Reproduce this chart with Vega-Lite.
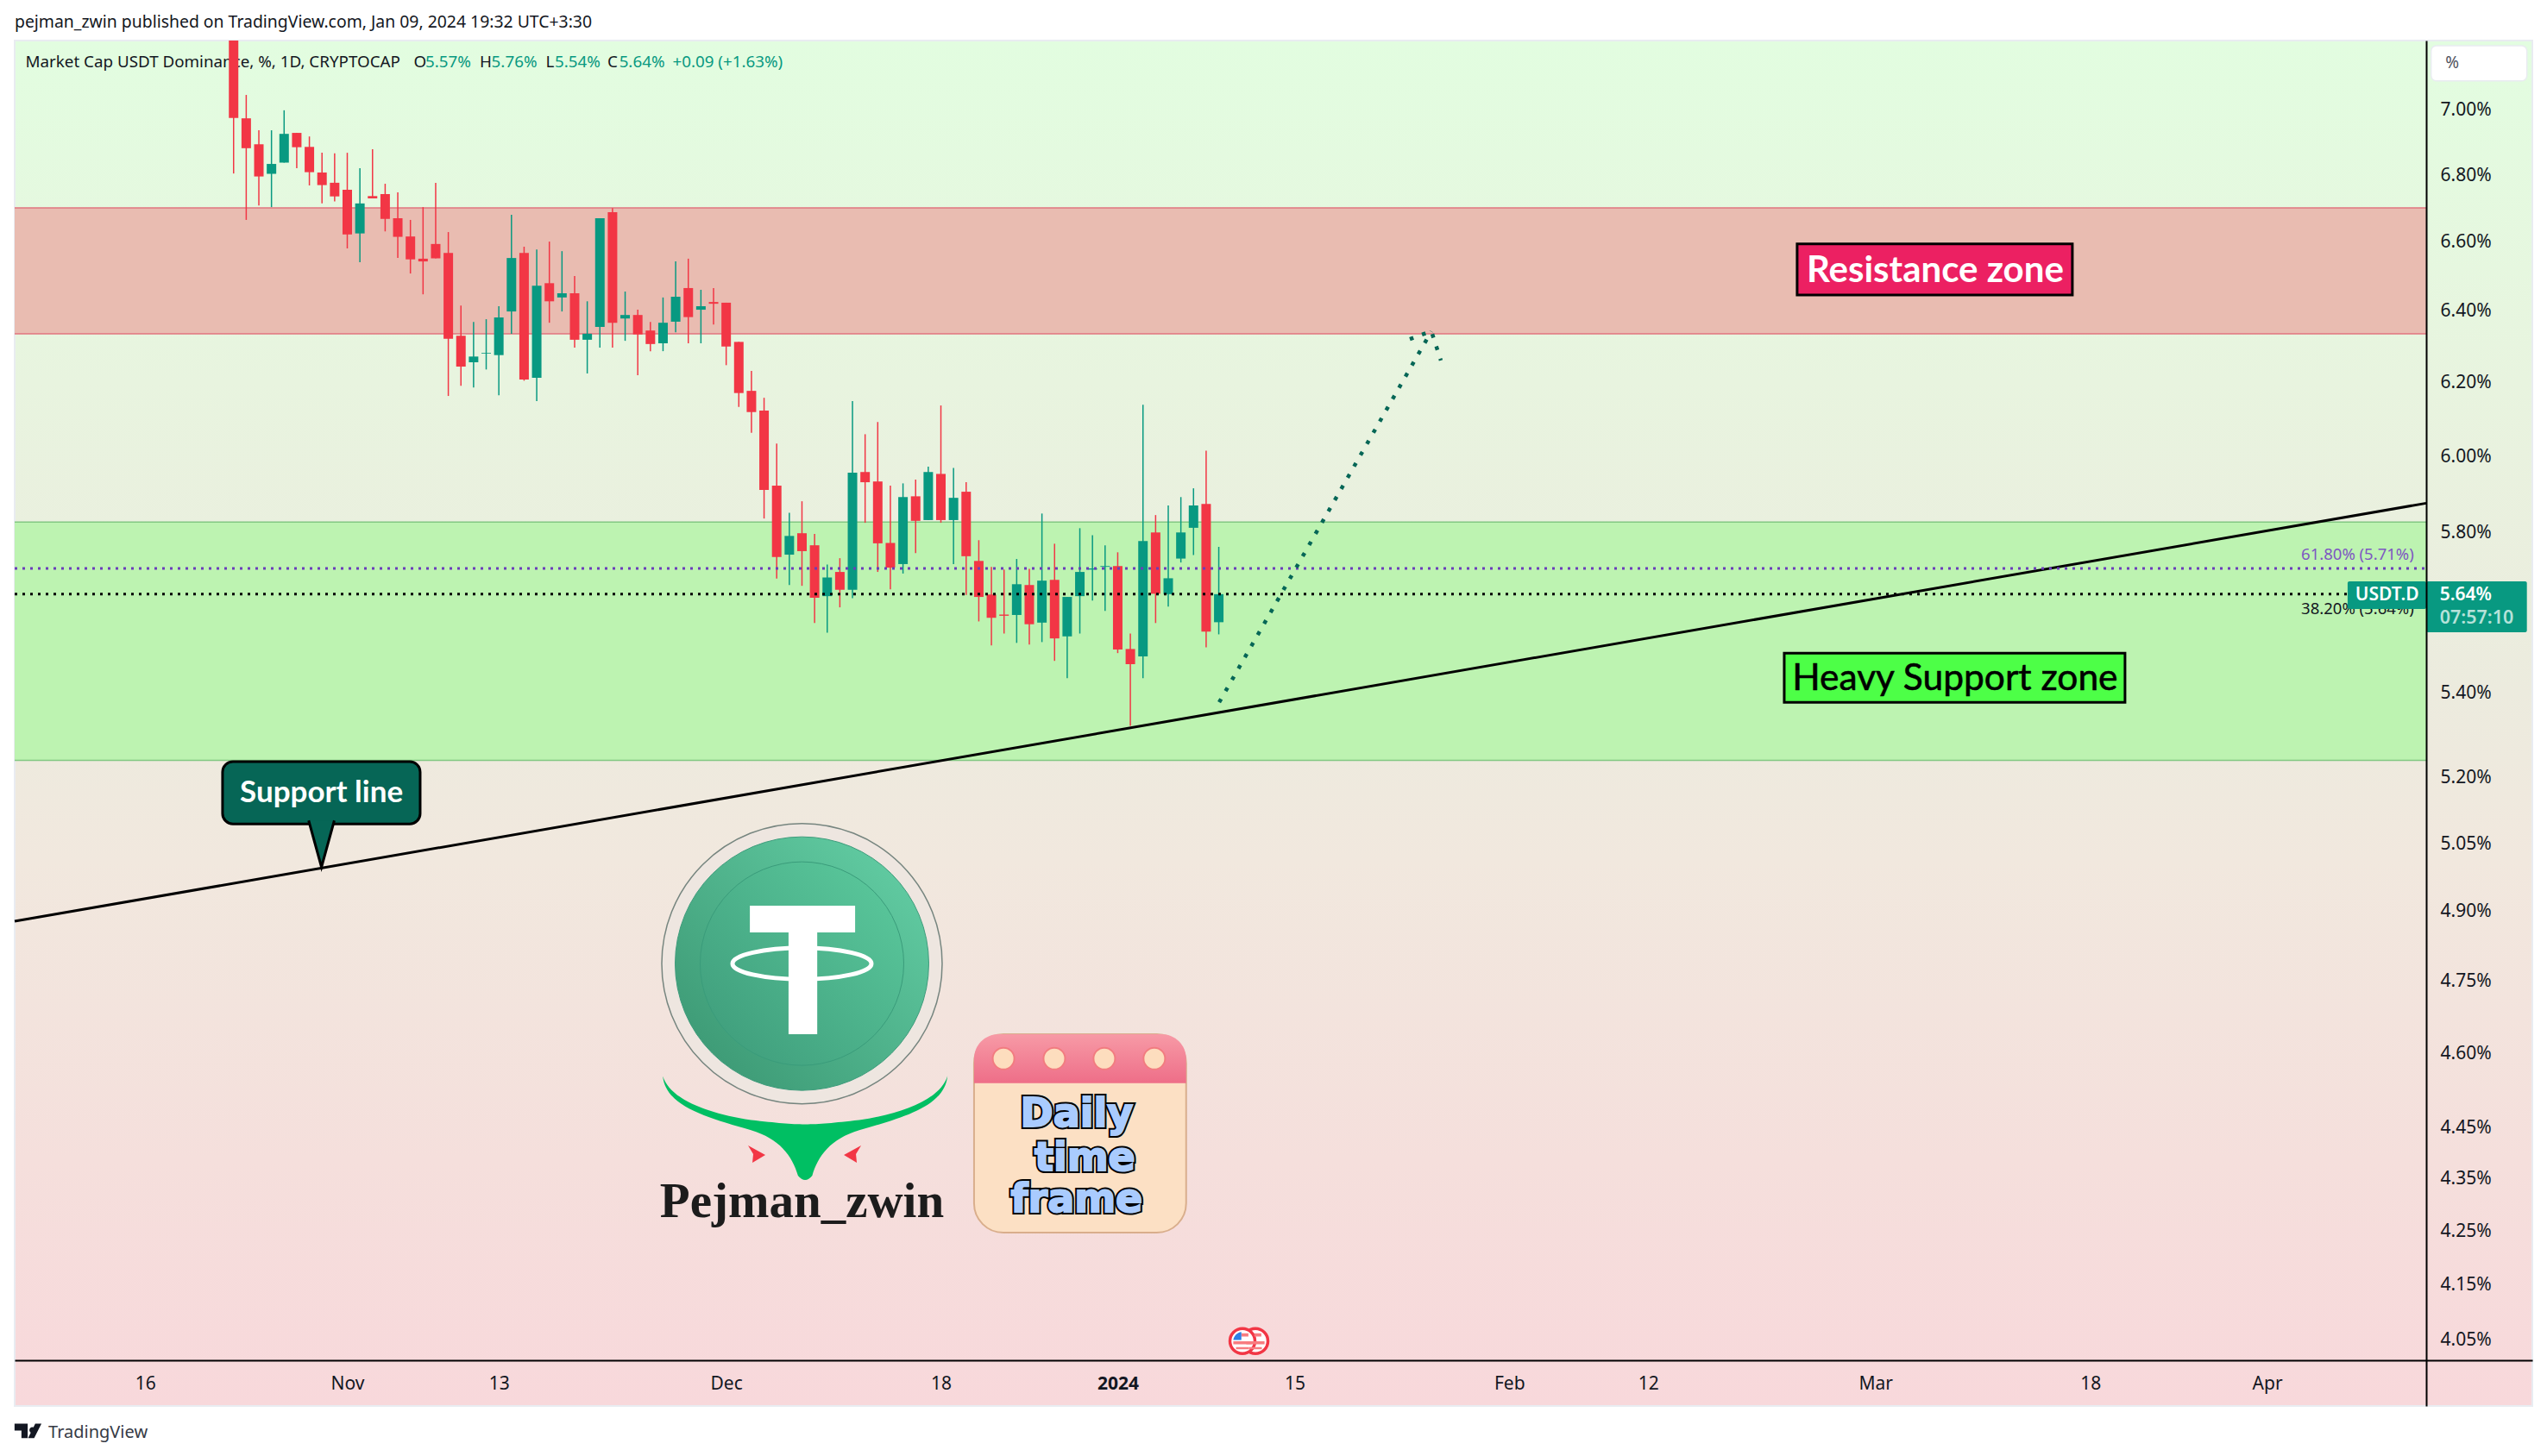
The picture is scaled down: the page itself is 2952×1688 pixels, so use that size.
{
  "$schema": "https://vega.github.io/schema/vega-lite/v6.json",
  "autosize": "none",
  "padding": {"left": 17, "top": 47, "right": 17, "bottom": 58},
  "width": 2918,
  "height": 1583,
  "background": "#ffffff",
  "config": {"font": "Noto Sans", "view": {"stroke": null}},
  "title": {"text": "pejman_zwin published on TradingView.com, Jan 09, 2024 19:32 UTC+3:30", "anchor": "start", "frame": "group", "fontSize": 19.4, "fontWeight": "normal", "color": "#131722", "font": "Noto Sans", "offset": 10},
  "datasets": {
    "candles": [
      {"date":"2023-10-23","open":7.25,"high":7.3,"low":6.801,"close":6.971,"dir":"down"},
      {"date":"2023-10-24","open":6.970,"high":7.043,"low":6.662,"close":6.878,"dir":"down"},
      {"date":"2023-10-25","open":6.890,"high":6.933,"low":6.705,"close":6.792,"dir":"down"},
      {"date":"2023-10-26","open":6.800,"high":6.933,"low":6.700,"close":6.830,"dir":"up"},
      {"date":"2023-10-27","open":6.834,"high":6.995,"low":6.834,"close":6.922,"dir":"up"},
      {"date":"2023-10-28","open":6.925,"high":6.925,"low":6.817,"close":6.881,"dir":"down"},
      {"date":"2023-10-29","open":6.882,"high":6.914,"low":6.765,"close":6.805,"dir":"down"},
      {"date":"2023-10-30","open":6.804,"high":6.864,"low":6.711,"close":6.766,"dir":"down"},
      {"date":"2023-10-31","open":6.773,"high":6.862,"low":6.717,"close":6.732,"dir":"down"},
      {"date":"2023-11-01","open":6.752,"high":6.864,"low":6.578,"close":6.619,"dir":"down"},
      {"date":"2023-11-02","open":6.622,"high":6.817,"low":6.538,"close":6.711,"dir":"up"},
      {"date":"2023-11-03","open":6.733,"high":6.875,"low":6.726,"close":6.726,"dir":"down"},
      {"date":"2023-11-04","open":6.739,"high":6.770,"low":6.628,"close":6.665,"dir":"down"},
      {"date":"2023-11-05","open":6.667,"high":6.744,"low":6.550,"close":6.612,"dir":"down"},
      {"date":"2023-11-06","open":6.613,"high":6.662,"low":6.505,"close":6.546,"dir":"down"},
      {"date":"2023-11-07","open":6.548,"high":6.700,"low":6.445,"close":6.540,"dir":"down"},
      {"date":"2023-11-08","open":6.591,"high":6.773,"low":6.549,"close":6.549,"dir":"down"},
      {"date":"2023-11-09","open":6.565,"high":6.626,"low":6.160,"close":6.319,"dir":"down"},
      {"date":"2023-11-10","open":6.327,"high":6.413,"low":6.188,"close":6.241,"dir":"down"},
      {"date":"2023-11-11","open":6.253,"high":6.366,"low":6.183,"close":6.269,"dir":"up"},
      {"date":"2023-11-12","open":6.277,"high":6.374,"low":6.233,"close":6.279,"dir":"up"},
      {"date":"2023-11-13","open":6.273,"high":6.411,"low":6.162,"close":6.379,"dir":"up"},
      {"date":"2023-11-14","open":6.396,"high":6.677,"low":6.333,"close":6.550,"dir":"up"},
      {"date":"2023-11-15","open":6.565,"high":6.583,"low":6.202,"close":6.205,"dir":"down"},
      {"date":"2023-11-16","open":6.210,"high":6.575,"low":6.146,"close":6.470,"dir":"up"},
      {"date":"2023-11-17","open":6.477,"high":6.598,"low":6.364,"close":6.425,"dir":"down"},
      {"date":"2023-11-18","open":6.436,"high":6.570,"low":6.396,"close":6.448,"dir":"up"},
      {"date":"2023-11-19","open":6.448,"high":6.498,"low":6.294,"close":6.316,"dir":"down"},
      {"date":"2023-11-20","open":6.316,"high":6.425,"low":6.222,"close":6.333,"dir":"up"},
      {"date":"2023-11-21","open":6.352,"high":6.667,"low":6.294,"close":6.667,"dir":"up"},
      {"date":"2023-11-22","open":6.685,"high":6.697,"low":6.294,"close":6.364,"dir":"down"},
      {"date":"2023-11-23","open":6.376,"high":6.453,"low":6.313,"close":6.386,"dir":"up"},
      {"date":"2023-11-24","open":6.386,"high":6.401,"low":6.217,"close":6.331,"dir":"down"},
      {"date":"2023-11-25","open":6.342,"high":6.366,"low":6.284,"close":6.304,"dir":"down"},
      {"date":"2023-11-26","open":6.306,"high":6.436,"low":6.284,"close":6.364,"dir":"up"},
      {"date":"2023-11-27","open":6.367,"high":6.540,"low":6.337,"close":6.438,"dir":"up"},
      {"date":"2023-11-28","open":6.463,"high":6.548,"low":6.306,"close":6.380,"dir":"down"},
      {"date":"2023-11-29","open":6.401,"high":6.458,"low":6.306,"close":6.411,"dir":"up"},
      {"date":"2023-11-30","open":6.423,"high":6.463,"low":6.359,"close":6.418,"dir":"down"},
      {"date":"2023-12-01","open":6.421,"high":6.421,"low":6.245,"close":6.297,"dir":"down"},
      {"date":"2023-12-02","open":6.310,"high":6.310,"low":6.130,"close":6.168,"dir":"down"},
      {"date":"2023-12-03","open":6.174,"high":6.229,"low":6.060,"close":6.116,"dir":"down"},
      {"date":"2023-12-04","open":6.120,"high":6.155,"low":5.833,"close":5.908,"dir":"down"},
      {"date":"2023-12-05","open":5.919,"high":6.031,"low":5.679,"close":5.734,"dir":"down"},
      {"date":"2023-12-06","open":5.740,"high":5.848,"low":5.663,"close":5.788,"dir":"up"},
      {"date":"2023-12-07","open":5.795,"high":5.878,"low":5.661,"close":5.749,"dir":"down"},
      {"date":"2023-12-08","open":5.764,"high":5.793,"low":5.568,"close":5.631,"dir":"down"},
      {"date":"2023-12-09","open":5.635,"high":5.715,"low":5.544,"close":5.682,"dir":"up"},
      {"date":"2023-12-10","open":5.696,"high":5.731,"low":5.607,"close":5.651,"dir":"down"},
      {"date":"2023-12-11","open":5.651,"high":6.146,"low":5.630,"close":5.953,"dir":"up"},
      {"date":"2023-12-12","open":5.955,"high":6.056,"low":5.822,"close":5.928,"dir":"down"},
      {"date":"2023-12-13","open":5.930,"high":6.089,"low":5.696,"close":5.769,"dir":"down"},
      {"date":"2023-12-14","open":5.770,"high":5.919,"low":5.652,"close":5.707,"dir":"down"},
      {"date":"2023-12-15","open":5.716,"high":5.925,"low":5.692,"close":5.889,"dir":"up"},
      {"date":"2023-12-16","open":5.891,"high":5.935,"low":5.744,"close":5.827,"dir":"down"},
      {"date":"2023-12-17","open":5.829,"high":5.969,"low":5.829,"close":5.955,"dir":"up"},
      {"date":"2023-12-18","open":5.950,"high":6.134,"low":5.822,"close":5.829,"dir":"down"},
      {"date":"2023-12-19","open":5.829,"high":5.966,"low":5.716,"close":5.887,"dir":"up"},
      {"date":"2023-12-20","open":5.903,"high":5.928,"low":5.638,"close":5.736,"dir":"down"},
      {"date":"2023-12-21","open":5.724,"high":5.777,"low":5.572,"close":5.633,"dir":"down"},
      {"date":"2023-12-22","open":5.639,"high":5.709,"low":5.513,"close":5.581,"dir":"down"},
      {"date":"2023-12-23","open":5.589,"high":5.702,"low":5.542,"close":5.586,"dir":"down"},
      {"date":"2023-12-24","open":5.588,"high":5.729,"low":5.519,"close":5.665,"dir":"up"},
      {"date":"2023-12-25","open":5.663,"high":5.704,"low":5.515,"close":5.565,"dir":"down"},
      {"date":"2023-12-26","open":5.569,"high":5.846,"low":5.521,"close":5.674,"dir":"up"},
      {"date":"2023-12-27","open":5.676,"high":5.768,"low":5.475,"close":5.530,"dir":"down"},
      {"date":"2023-12-28","open":5.535,"high":5.633,"low":5.433,"close":5.633,"dir":"up"},
      {"date":"2023-12-29","open":5.635,"high":5.808,"low":5.542,"close":5.696,"dir":"up"},
      {"date":"2023-12-30","open":5.702,"high":5.790,"low":5.624,"close":5.705,"dir":"up"},
      {"date":"2023-12-31","open":5.709,"high":5.764,"low":5.598,"close":5.711,"dir":"up"},
      {"date":"2024-01-01","open":5.711,"high":5.746,"low":5.494,"close":5.503,"dir":"down"},
      {"date":"2024-01-02","open":5.504,"high":5.542,"low":5.319,"close":5.467,"dir":"down"},
      {"date":"2024-01-03","open":5.486,"high":6.136,"low":5.433,"close":5.775,"dir":"up"},
      {"date":"2024-01-04","open":5.797,"high":5.842,"low":5.568,"close":5.641,"dir":"down"},
      {"date":"2024-01-05","open":5.640,"high":5.867,"low":5.609,"close":5.680,"dir":"up"},
      {"date":"2024-01-06","open":5.730,"high":5.889,"low":5.720,"close":5.797,"dir":"up"},
      {"date":"2024-01-07","open":5.809,"high":5.912,"low":5.739,"close":5.867,"dir":"up"},
      {"date":"2024-01-08","open":5.871,"high":6.012,"low":5.508,"close":5.547,"dir":"down"},
      {"date":"2024-01-09","open":5.57,"high":5.76,"low":5.54,"close":5.64,"dir":"up"}
    ]
  },
  "encoding": {
    "x": {
      "field": "date", "type": "temporal", "title": null,
      "scale": {"type": "utc", "domain": ["2023-10-05T16:00:00Z", "2024-04-22T00:00:00Z"], "nice": false, "padding": 0},
      "axis": {
        "orient": "bottom", "offset": -53, "zindex": 1, "grid": false, "ticks": false,
        "domainColor": "#000000", "domainWidth": 2,
        "labelFontSize": 21, "labelColor": "#131722", "labelPadding": 16, "labelOverlap": false, "labelFlush": false, "labelBound": false,
        "values": [
          {"year":2023,"month":10,"date":16,"utc":true},{"year":2023,"month":11,"date":1,"utc":true},
          {"year":2023,"month":11,"date":13,"utc":true},{"year":2023,"month":12,"date":1,"utc":true},
          {"year":2023,"month":12,"date":18,"utc":true},{"year":2024,"month":1,"date":1,"utc":true},
          {"year":2024,"month":1,"date":15,"utc":true},{"year":2024,"month":2,"date":1,"utc":true},
          {"year":2024,"month":2,"date":12,"utc":true},{"year":2024,"month":3,"date":1,"utc":true},
          {"year":2024,"month":3,"date":18,"utc":true},{"year":2024,"month":4,"date":1,"utc":true}
        ],
        "labelExpr": "utcdate(datum.value)==1 ? (utcmonth(datum.value)==0 ? utcFormat(datum.value,'%Y') : utcFormat(datum.value,'%b')) : utcFormat(datum.value,'%-d')",
        "labelFontWeight": {"condition": {"test": "utcdate(datum.value)==1 && utcmonth(datum.value)==0", "value": "bold"}, "value": "normal"}
      }
    },
    "y": {
      "field": "price", "type": "quantitative", "title": null,
      "scale": {"type": "log", "domain": [3.93, 7.2155], "nice": false, "zero": false},
      "axis": {
        "orient": "right", "offset": -123, "zindex": 1, "grid": false, "ticks": false,
        "domainColor": "#000000", "domainWidth": 2,
        "labelFontSize": 21, "labelColor": "#131722", "labelPadding": 16, "labelOffset": 1.5, "labelOverlap": false, "labelFlush": false, "labelBound": false,
        "values": [7, 6.8, 6.6, 6.4, 6.2, 6, 5.8, 5.4, 5.2, 5.05, 4.9, 4.75, 4.6, 4.45, 4.35, 4.25, 4.15, 4.05],
        "labelExpr": "format(datum.value,'.2f')+'%'"
      }
    }
  },
  "layer": [
    {
      "data": {"values": [{"date":"2023-10-05T16:00:00Z","date2":"2024-04-22T00:00:00Z","price":7.2155,"price2":3.93}]},
      "mark": {"type": "rect", "stroke": "#E9ECF1", "strokeWidth": 2, "fill": {"gradient": "linear", "x1": 0, "y1": 0, "x2": 0, "y2": 1, "stops": [
        {"offset": 0, "color": "#E2FDE0"}, {"offset": 0.25, "color": "#E8F4DF"}, {"offset": 0.476, "color": "#ECEBDE"}, {"offset": 0.6, "color": "#F1E8DE"}, {"offset": 0.82, "color": "#F5DFDC"}, {"offset": 1, "color": "#F8D8DB"}
      ]}},
      "encoding": {"x2": {"field": "date2"}, "y2": {"field": "price2"}}
    },
    {
      "data": {"values": [{"date":"2023-10-05T16:00:00Z","date2":"2024-04-13T14:24:00Z","price":6.698,"price2":6.333}]},
      "mark": {"type": "rect", "fill": "#E9BCB1"},
      "encoding": {"x2": {"field": "date2"}, "y2": {"field": "price2"}}
    },
    {
      "data": {"values": [{"date":"2023-10-05T16:00:00Z","date2":"2024-04-13T14:24:00Z","price":6.698},{"date":"2023-10-05T16:00:00Z","date2":"2024-04-13T14:24:00Z","price":6.333}]},
      "mark": {"type": "rule", "color": "#E0747F", "strokeWidth": 1.5},
      "encoding": {"x2": {"field": "date2"}}
    },
    {
      "data": {"values": [{"date":"2023-10-05T16:00:00Z","date2":"2024-04-13T14:24:00Z","price":5.824,"price2":5.238}]},
      "mark": {"type": "rect", "fill": "#BDF3B1"},
      "encoding": {"x2": {"field": "date2"}, "y2": {"field": "price2"}}
    },
    {
      "data": {"values": [{"date":"2023-10-05T16:00:00Z","date2":"2024-04-13T14:24:00Z","price":5.824},{"date":"2023-10-05T16:00:00Z","date2":"2024-04-13T14:24:00Z","price":5.238}]},
      "mark": {"type": "rule", "color": "#82C882", "strokeWidth": 1.5},
      "encoding": {"x2": {"field": "date2"}}
    },
    {
      "data": {"values": [
        {"date":"2023-10-06T12:30:00Z","price":7.147,"text":"Market Cap USDT Dominance, %, 1D, CRYPTOCAP"},
        {"date":"2023-11-06T06:15:00Z","price":7.147,"text":"O"},
        {"date":"2023-11-11T11:45:00Z","price":7.147,"text":"H"},
        {"date":"2023-11-16T17:15:00Z","price":7.147,"text":"L"},
        {"date":"2023-11-21T14:25:00Z","price":7.147,"text":"C"}
      ]},
      "mark": {"type": "text", "align": "left", "baseline": "middle", "fontSize": 18.8, "color": "#131722"},
      "encoding": {"text": {"field": "text"}}
    },
    {
      "data": {"values": [
        {"date":"2023-11-07T04:20:00Z","price":7.147,"text":"5.57%"},
        {"date":"2023-11-12T10:00:00Z","price":7.147,"text":"5.76%"},
        {"date":"2023-11-17T10:20:00Z","price":7.147,"text":"5.54%"},
        {"date":"2023-11-22T12:40:00Z","price":7.147,"text":"5.64%"},
        {"date":"2023-11-26T18:00:00Z","price":7.147,"text":"+0.09 (+1.63%)"}
      ]},
      "mark": {"type": "text", "align": "left", "baseline": "middle", "fontSize": 18.8, "color": "#089981"},
      "encoding": {"text": {"field": "text"}}
    },
    {
      "data": {"values": [{"date":"2024-04-13T23:40:00Z","date2":"2024-04-21T13:40:00Z","price":7.199,"price2":7.087}]},
      "mark": {"type": "rect", "fill": "#ffffff", "stroke": "#E9ECF1", "strokeWidth": 1.5, "cornerRadius": 6},
      "encoding": {"x2": {"field": "date2"}, "y2": {"field": "price2"}}
    },
    {
      "data": {"values": [{"date":"2024-04-15T03:00:00Z","price":7.144,"text":"%"}]},
      "mark": {"type": "text", "align": "left", "baseline": "middle", "fontSize": 19, "color": "#50535E"},
      "encoding": {"text": {"field": "text"}}
    },
    {
      "data": {"values": [{"date":"2023-12-07","price":4.785}]},
      "mark": {"type": "point", "shape": "circle", "size": 105625, "filled": true, "opacity": 1, "fill": "#EEE6E0", "stroke": "#76857F", "strokeWidth": 1.5}
    },
    {
      "data": {"values": [{"date":"2023-12-07","price":4.785}]},
      "mark": {"type": "point", "shape": "circle", "size": 86436, "filled": true, "opacity": 1, "stroke": "#3E9C7C", "strokeWidth": 1, "fill": {"gradient": "linear", "x1": 1, "y1": 0, "x2": 0, "y2": 1, "stops": [{"offset": 0, "color": "#66D2A8"}, {"offset": 1, "color": "#38936F"}]}}
    },
    {
      "data": {"values": [{"date":"2023-12-07","price":4.785}]},
      "mark": {"type": "point", "shape": "circle", "size": 55696, "filled": true, "opacity": 1, "stroke": "#3A9C7B", "strokeWidth": 1, "fill": {"gradient": "linear", "x1": 1, "y1": 0, "x2": 0, "y2": 1, "stops": [{"offset": 0, "color": "#5CCB9E"}, {"offset": 1, "color": "#3D9A79"}]}}
    },
    {
      "data": {"values": [
        {"date":"2023-12-02T21:00:00Z","date2":"2023-12-11T05:00:00Z","price":4.910,"price2":4.852},
        {"date":"2023-12-05T22:30:00Z","date2":"2023-12-08T05:00:00Z","price":4.852,"price2":4.637}
      ]},
      "mark": {"type": "rect", "fill": "#ffffff"},
      "encoding": {"x2": {"field": "date2"}, "y2": {"field": "price2"}}
    },
    {
      "data": {"values": [{"date":"2023-12-07","price":4.785}]},
      "mark": {"type": "point", "shape": "M-1,0A1,.224 0 1 0 1,0A1,.224 0 1 0 -1,0Z", "size": 25921, "filled": false, "opacity": 1, "stroke": "#ffffff", "strokeWidth": 5}
    },
    {
      "data": {"values": [{"date":"2023-12-07T06:00:00Z","price":4.449}]},
      "mark": {"type": "point", "shape": "M-1,-.36C-.95,-.2 -.7,-.1 -.38,-.05C-.2,-.03 -.1,-.02 0,-.02C.1,-.02 .2,-.03 .38,-.05C.7,-.1 .95,-.2 1,-.36C.98,-.15 .7,-.07 .38,.02C.18,.08 .09,.2 .05,.34Q0,.4 -.05,.34C-.09,.2 -.18,.08 -.38,.02C-.7,-.07 -.98,-.15 -1,-.36Z", "size": 108900, "filled": true, "opacity": 1, "fill": "#00BF63"}
    },
    {
      "data": {"values": [{"date":"2023-12-03T10:00:00Z","price":4.396}]},
      "mark": {"type": "point", "shape": "M-1,-1L1,.1L-.5,1L-.4,0Z", "size": 400, "filled": true, "opacity": 1, "fill": "#F23645"}
    },
    {
      "data": {"values": [{"date":"2023-12-11T00:00:00Z","price":4.396}]},
      "mark": {"type": "point", "shape": "M1,-1L-1,.1L.5,1L.4,0Z", "size": 400, "filled": true, "opacity": 1, "fill": "#F23645"}
    },
    {
      "data": {"values": [{"date":"2023-12-07","price":4.274,"text":"Pejman_zwin"}]},
      "mark": {"type": "text", "align": "center", "baseline": "alphabetic", "font": "Liberation Serif", "fontWeight": "bold", "fontSize": 57, "color": "#1C1C1C"},
      "encoding": {"text": {"field": "text"}}
    },
    {
      "data": {"values": [{"date":"2023-12-20T15:00:00Z","date2":"2024-01-06T10:00:00Z","price":4.637,"price2":4.245}]},
      "mark": {"type": "rect", "fill": "#FCE0C4", "stroke": "#D9AE8C", "strokeWidth": 2, "cornerRadius": 34},
      "encoding": {"x2": {"field": "date2"}, "y2": {"field": "price2"}}
    },
    {
      "data": {"values": [{"date":"2023-12-20T15:00:00Z","date2":"2024-01-06T10:00:00Z","price":4.637,"price2":4.537}]},
      "mark": {"type": "rect", "cornerRadiusTopLeft": 30, "cornerRadiusTopRight": 30, "fill": {"gradient": "linear", "x1": 0, "y1": 0, "x2": 0, "y2": 1, "stops": [{"offset": 0, "color": "#F79AA6"}, {"offset": 1, "color": "#EE6E88"}]}},
      "encoding": {"x2": {"field": "date2"}, "y2": {"field": "price2"}}
    },
    {
      "data": {"values": [
        {"date":"2023-12-22T23:00:00Z","price":4.587},
        {"date":"2023-12-26T23:30:00Z","price":4.587},
        {"date":"2023-12-30T22:30:00Z","price":4.587},
        {"date":"2024-01-03T21:30:00Z","price":4.587}
      ]},
      "mark": {"type": "point", "shape": "circle", "size": 625, "filled": true, "opacity": 1, "fill": "#FDDDBE", "stroke": "#F27C80", "strokeWidth": 2}
    },
    {
      "data": {"values": [
        {"date":"2023-12-28T18:00:00Z","price":4.450,"text":"Daily"},
        {"date":"2023-12-29T09:30:00Z","price":4.364,"text":"time"},
        {"date":"2023-12-28T18:00:00Z","price":4.284,"text":"frame"}
      ]},
      "mark": {"type": "text", "align": "center", "baseline": "alphabetic", "font": "DejaVu Sans", "fontWeight": "bold", "fontSize": 46, "fill": "#000000", "stroke": "#000000", "strokeWidth": 6},
      "encoding": {"text": {"field": "text"}}
    },
    {
      "data": {"values": [
        {"date":"2023-12-28T18:00:00Z","price":4.450,"text":"Daily"},
        {"date":"2023-12-29T09:30:00Z","price":4.364,"text":"time"},
        {"date":"2023-12-28T18:00:00Z","price":4.284,"text":"frame"}
      ]},
      "mark": {"type": "text", "align": "center", "baseline": "alphabetic", "font": "DejaVu Sans", "fontWeight": "bold", "fontSize": 46, "fill": "#A9CBFE", "stroke": "#A9CBFE", "strokeWidth": 2},
      "encoding": {"text": {"field": "text"}}
    },
    {
      "data": {"values": [{"date":"2024-01-11T21:36:00Z","price":4.045},{"date":"2024-01-10T21:00:00Z","price":4.045}]},
      "mark": {"type": "point", "shape": "circle", "size": 841, "filled": true, "opacity": 1, "fill": "#ffffff", "stroke": "#F23645", "strokeWidth": 3.5}
    },
    {
      "data": {"values": [{"date":"2024-01-11T21:36:00Z","price":4.045},{"date":"2024-01-10T21:00:00Z","price":4.045}]},
      "mark": {"type": "point", "shape": "M-.1,-.72H.55V-.42H-.1ZM-.85,.02H.85V.3H-.85ZM-.6,.55H.6V.75H-.6Z", "size": 625, "filled": true, "opacity": 1, "fill": "#F77C80"}
    },
    {
      "data": {"values": [{"date":"2024-01-10T21:00:00Z","price":4.045}]},
      "mark": {"type": "point", "shape": "M-.85,-.1A.85,.85 0 0 1 -.1,-.85V-.1Z", "size": 625, "filled": true, "opacity": 1, "fill": "#2D7FE6"}
    },
    {
      "data": {"name": "candles"},
      "mark": {"type": "rule", "strokeWidth": 1.5, "clip": true},
      "encoding": {
        "y": {"field": "low", "type": "quantitative"},
        "y2": {"field": "high"},
        "color": {"field": "dir", "type": "nominal", "scale": {"domain": ["up", "down"], "range": ["#089981", "#F23645"]}, "legend": null}
      }
    },
    {
      "data": {"name": "candles"},
      "mark": {"type": "bar", "width": 11, "clip": true},
      "encoding": {
        "y": {"field": "open", "type": "quantitative"},
        "y2": {"field": "close"},
        "color": {"field": "dir", "type": "nominal", "scale": {"domain": ["up", "down"], "range": ["#089981", "#F23645"]}, "legend": null}
      }
    },
    {
      "data": {"values": [{"date":"2023-10-05T16:00:00Z","price":4.876},{"date":"2024-04-13T14:24:00Z","price":5.873}]},
      "mark": {"type": "line", "color": "#000000", "strokeWidth": 3}
    },
    {
      "data": {"values": [{"date":"2023-10-05T16:00:00Z","date2":"2024-04-13T14:24:00Z","price":5.705}]},
      "mark": {"type": "rule", "color": "#6A3DBA", "strokeWidth": 3, "strokeDash": [3, 6]},
      "encoding": {"x2": {"field": "date2"}}
    },
    {
      "data": {"values": [{"date":"2023-10-05T16:00:00Z","date2":"2024-04-13T14:24:00Z","price":5.64}]},
      "mark": {"type": "rule", "color": "#000000", "strokeWidth": 3, "strokeDash": [3, 6]},
      "encoding": {"x2": {"field": "date2"}}
    },
    {
      "data": {"values": [{"date":"2024-04-12T15:00:00Z","price":5.74,"text":"61.80% (5.71%)"}]},
      "mark": {"type": "text", "align": "right", "baseline": "middle", "fontSize": 18.5, "color": "#7E57C2"},
      "encoding": {"text": {"field": "text"}}
    },
    {
      "data": {"values": [{"date":"2024-04-12T15:00:00Z","price":5.603,"text":"38.20% (5.64%)"}]},
      "mark": {"type": "text", "align": "right", "baseline": "middle", "fontSize": 18.5, "color": "#131722"},
      "encoding": {"text": {"field": "text"}}
    },
    {
      "data": {"values": [{"date":"2024-01-09T00:45:00Z","price":5.375},{"date":"2024-01-25T20:00:00Z","price":6.34}]},
      "mark": {"type": "line", "color": "#056656", "strokeWidth": 4.5, "strokeDash": [4.5, 10.5]}
    },
    {
      "data": {"values": [{"date":"2024-01-24T03:00:00Z","price":6.318},{"date":"2024-01-25T20:00:00Z","price":6.34},{"date":"2024-01-26T14:00:00Z","price":6.258}]},
      "mark": {"type": "line", "color": "#056656", "strokeWidth": 4.5, "strokeDash": [4.5, 10.5]}
    },
    {
      "data": {"values": [{"date":"2024-02-23T19:00:00Z","date2":"2024-03-16T14:00:00Z","price":6.591,"price2":6.443}]},
      "mark": {"type": "rect", "fill": "#EC2062", "stroke": "#000000", "strokeWidth": 3},
      "encoding": {"x2": {"field": "date2"}, "y2": {"field": "price2"}}
    },
    {
      "data": {"values": [{"date":"2024-03-05T17:15:00Z","price":6.518,"text":"Resistance zone"}]},
      "mark": {"type": "text", "align": "center", "baseline": "middle", "font": "Lato", "fontWeight": "bold", "fontSize": 42, "dy": 2, "color": "#ffffff"},
      "encoding": {"text": {"field": "text"}}
    },
    {
      "data": {"values": [{"date":"2024-02-22T18:30:00Z","date2":"2024-03-20T18:00:00Z","price":5.494,"price2":5.375}]},
      "mark": {"type": "rect", "fill": "#4DFF47", "stroke": "#000000", "strokeWidth": 3},
      "encoding": {"x2": {"field": "date2"}, "y2": {"field": "price2"}}
    },
    {
      "data": {"values": [{"date":"2024-03-07T07:00:00Z","price":5.436,"text":"Heavy Support zone"}]},
      "mark": {"type": "text", "align": "center", "baseline": "middle", "font": "Lato", "fontSize": 42.5, "dy": 2, "color": "#000000", "stroke": "#000000", "strokeWidth": 0.6},
      "encoding": {"text": {"field": "text"}}
    },
    {
      "data": {"values": [{"date":"2023-10-22T03:00:00Z","date2":"2023-11-06T18:30:00Z","price":5.235,"price2":5.092}]},
      "mark": {"type": "rect", "fill": "#066656", "stroke": "#000000", "strokeWidth": 3, "cornerRadius": 12},
      "encoding": {"x2": {"field": "date2"}, "y2": {"field": "price2"}}
    },
    {
      "data": {"values": [{"date":"2023-10-29T23:00:00Z","price":5.047}]},
      "mark": {"type": "point", "shape": "M-.55,-1L0,1L.55,-1", "size": 2916, "filled": true, "opacity": 1, "fill": "#066656", "stroke": "#000000", "strokeWidth": 3}
    },
    {
      "data": {"values": [{"date":"2023-10-29T23:00:00Z","price":5.167,"text":"Support line"}]},
      "mark": {"type": "text", "align": "center", "baseline": "middle", "font": "Lato", "fontWeight": "bold", "fontSize": 35, "dy": 2, "color": "#ffffff"},
      "encoding": {"text": {"field": "text"}}
    },
    {
      "data": {"values": [
        {"date":"2024-04-07T09:00:00Z","date2":"2024-04-13T14:24:00Z","price":5.672,"price2":5.603},
        {"date":"2024-04-13T14:24:00Z","date2":"2024-04-21T13:40:00Z","price":5.672,"price2":5.545}
      ]},
      "mark": {"type": "rect", "fill": "#089981", "cornerRadius": 2},
      "encoding": {"x2": {"field": "date2"}, "y2": {"field": "price2"}}
    },
    {
      "data": {"values": [
        {"date":"2024-04-07T23:30:00Z","price":5.637,"text":"USDT.D"},
        {"date":"2024-04-14T16:00:00Z","price":5.637,"text":"5.64%"}
      ]},
      "mark": {"type": "text", "align": "left", "baseline": "middle", "fontSize": 21, "fontWeight": 600, "color": "#ffffff"},
      "encoding": {"text": {"field": "text"}}
    },
    {
      "data": {"values": [{"date":"2024-04-14T16:00:00Z","price":5.579,"text":"07:57:10"}]},
      "mark": {"type": "text", "align": "left", "baseline": "middle", "fontSize": 21.5, "fontWeight": 600, "color": "#B5E2D9"},
      "encoding": {"text": {"field": "text"}}
    },
    {
      "data": {"values": [{"date":"2023-10-06T18:00:00Z","price":3.886}]},
      "mark": {"type": "point", "shape": "M-1,-.55H-.05V.5H-.5V-.05H-1ZM.3,-.3a.22,.22 0 1 1 -.01,0ZM.95,-.55L.42,.5H-.02L.5,-.55Z", "size": 1024, "filled": true, "opacity": 1, "fill": "#131722"}
    },
    {
      "data": {"values": [{"date":"2023-10-08T08:00:00Z","price":3.875,"text":"TradingView"}]},
      "mark": {"type": "text", "align": "left", "baseline": "alphabetic", "fontSize": 20, "color": "#363A45"},
      "encoding": {"text": {"field": "text"}}
    }
  ]
}
